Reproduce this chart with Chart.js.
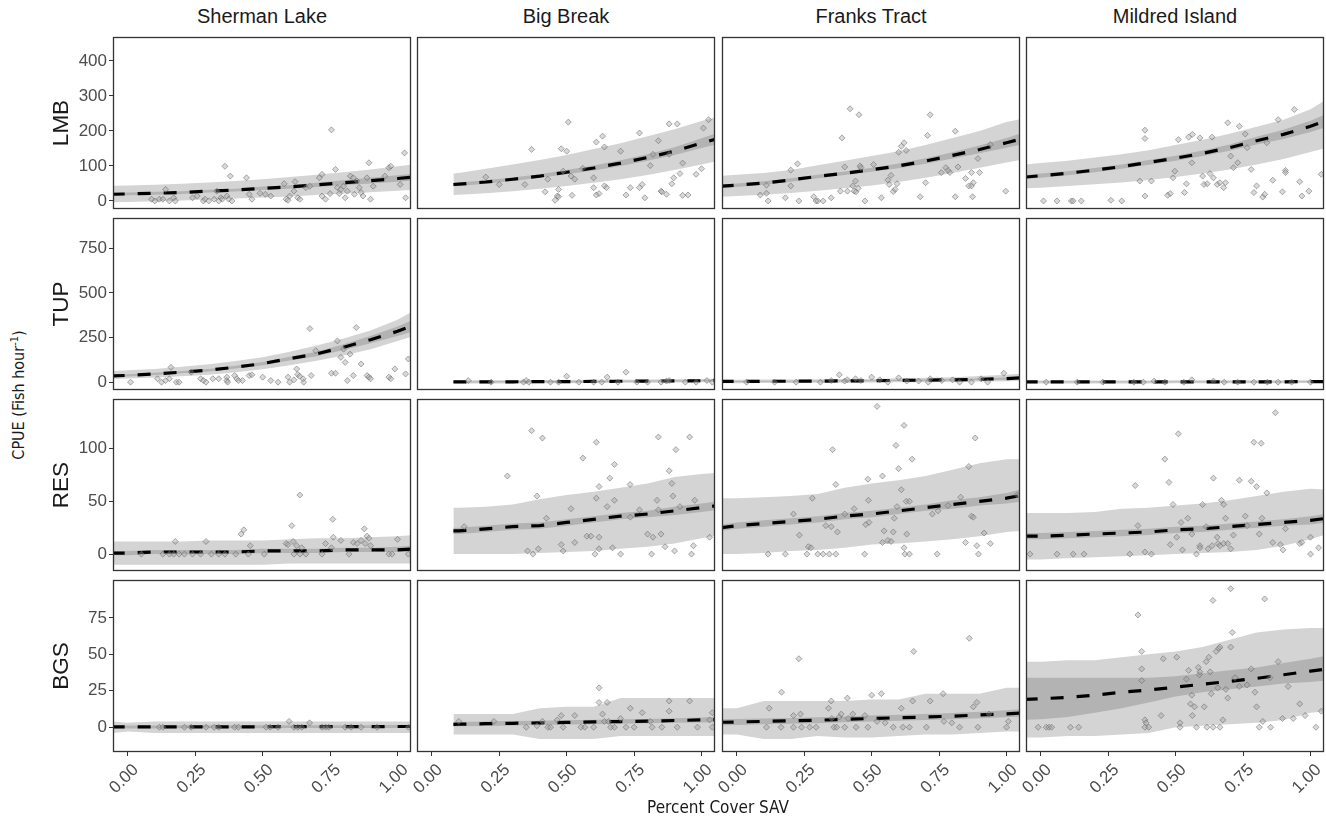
<!DOCTYPE html>
<html>
<head>
<meta charset="utf-8">
<script src="https://cdn.jsdelivr.net/npm/chart.js@4.4.0/dist/chart.umd.min.js"></script>
<style>
  body { margin: 0; background: #fff; width: 1326px; height: 820px; position: relative; overflow: hidden;
         font-family: "Liberation Sans", Arial, sans-serif; }
  canvas { position: absolute; }
  .lbl { position: absolute; white-space: nowrap; color: #1a1a1a; }
  .rot { transform: translate(-50%, -50%) rotate(-90deg); }
  .narrow { font-family: "Liberation Sans Narrow", "Arial Narrow", "DejaVu Sans Condensed", sans-serif; }
</style>
</head>
<body>
<script>
// facets
var SITES = ['Sherman Lake', 'Big Break', 'Franks Tract', 'Mildred Island'];
var SPECIES = ['LMB', 'TUP', 'RES', 'BGS'];
var X_TICKS = [0, 0.25, 0.5, 0.75, 1];
var Y_TICKS = [[0, 100, 200, 300, 400], [0, 250, 500, 750], [0, 50, 100], [0, 25, 50, 75]];

// x positions of the fitted curves
var X_GRID = [-0.06, 0, 0.1, 0.2, 0.3, 0.4, 0.5, 0.6, 0.7, 0.8, 0.9, 1.0, 1.06];
var X_GRID_BB = [0.08, 0.1, 0.2, 0.3, 0.4, 0.5, 0.6, 0.7, 0.8, 0.9, 1.0, 1.06];

// ---- LMB ----
var SL_LMB_FIT = [19, 20, 22, 24, 28, 31, 36, 40, 46, 52, 58, 64, 68];
var SL_LMB_CI_LO = [15, 16, 18, 20, 24, 27, 31, 35, 40, 45, 50, 55, 58];
var SL_LMB_CI_HI = [23, 24, 26, 28, 32, 35, 41, 45, 52, 59, 66, 73, 78];
var SL_LMB_PI_LO = [-4, -3, -1, 1, 4, 7, 10, 13, 17, 21, 25, 29, 32];
var SL_LMB_PI_HI = [43, 44, 46, 49, 53, 57, 62, 68, 75, 82, 90, 99, 104];
var SL_LMB_PTS = [[0.088,5],[0.10,0],[0.117,5],[0.13,5],[0.14,33],[0.154,0],[0.17,9],[0.176,0],[0.24,9],[0.257,14],[0.28,0],[0.286,5],[0.30,0],[0.32,5],[0.33,28],[0.337,0],[0.345,9],[0.35,5],[0.36,99],[0.367,14],[0.374,5],[0.38,71],[0.386,0],[0.44,66],[0.45,19],[0.46,5],[0.49,22],[0.51,19],[0.53,14],[0.58,49],[0.587,5],[0.594,2],[0.60,14],[0.616,28],[0.62,55],[0.63,9],[0.638,5],[0.66,38],[0.675,42],[0.71,66],[0.72,76],[0.72,14],[0.733,5],[0.75,21],[0.755,203],[0.77,90],[0.777,38],[0.784,21],[0.79,33],[0.80,42],[0.806,9],[0.814,28],[0.825,71],[0.836,66],[0.84,19],[0.85,57],[0.858,38],[0.865,24],[0.872,14],[0.887,66],[0.894,109],[0.90,5],[0.91,42],[0.953,71],[0.968,95],[0.975,99],[1.01,47],[1.026,137],[1.03,9]];

var BB_LMB_FIT = [47, 48, 54, 62, 71, 82, 94, 108, 124, 142, 165, 178];
var BB_LMB_CI_LO = [42, 43, 49, 57, 66, 76, 87, 100, 115, 131, 151, 162];
var BB_LMB_CI_HI = [52, 53, 59, 67, 76, 88, 101, 116, 133, 153, 179, 194];
var BB_LMB_PI_LO = [17, 18, 22, 28, 35, 43, 52, 62, 74, 88, 104, 114];
var BB_LMB_PI_HI = [78, 80, 92, 104, 117, 131, 148, 165, 185, 205, 228, 240];
var BB_LMB_PTS = [[0.20,68],[0.25,47],[0.345,47],[0.37,147],[0.42,26],[0.43,62],[0.457,2],[0.465,14],[0.47,12],[0.47,33],[0.48,149],[0.487,85],[0.50,142],[0.506,225],[0.516,71],[0.52,16],[0.53,62],[0.56,93],[0.60,66],[0.60,38],[0.61,17],[0.61,168],[0.62,21],[0.633,185],[0.64,154],[0.64,43],[0.648,38],[0.70,142],[0.72,17],[0.736,38],[0.77,38],[0.77,194],[0.78,47],[0.79,9],[0.81,101],[0.82,133],[0.84,172],[0.85,28],[0.853,26],[0.87,19],[0.88,220],[0.88,133],[0.89,49],[0.897,66],[0.91,220],[0.92,78],[0.93,108],[0.93,16],[0.95,17],[0.98,76],[1.0,92],[1.007,208],[1.026,232]];

var FT_LMB_FIT = [42, 45, 51, 60, 70, 79, 89, 100, 114, 130, 147, 166, 178];
var FT_LMB_CI_LO = [37, 40, 46, 55, 65, 74, 83, 93, 106, 121, 136, 152, 162];
var FT_LMB_CI_HI = [47, 50, 56, 65, 75, 84, 95, 107, 122, 139, 158, 180, 194];
var FT_LMB_PI_LO = [12, 14, 18, 23, 29, 36, 44, 54, 66, 80, 95, 110, 118];
var FT_LMB_PI_HI = [72, 75, 80, 88, 102, 115, 128, 142, 160, 180, 200, 225, 235];
var FT_LMB_PTS = [[0.087,17],[0.11,22],[0.11,45],[0.116,0],[0.18,9],[0.2,88],[0.2,43],[0.225,106],[0.23,0],[0.285,12],[0.294,0],[0.30,0],[0.32,0],[0.35,9],[0.384,28],[0.39,180],[0.40,97],[0.41,28],[0.42,263],[0.43,43],[0.435,28],[0.44,57],[0.442,26],[0.45,36],[0.453,246],[0.457,100],[0.46,95],[0.475,0],[0.507,104],[0.536,9],[0.56,60],[0.565,47],[0.572,73],[0.58,27],[0.587,33],[0.594,49],[0.60,139],[0.61,156],[0.62,166],[0.628,144],[0.68,12],[0.70,52],[0.707,187],[0.717,246],[0.758,81],[0.775,95],[0.783,87],[0.79,81],[0.81,199],[0.81,12],[0.82,97],[0.848,64],[0.86,43],[0.87,81],[0.874,12],[0.87,43],[0.877,52],[0.894,121],[0.90,81],[0.94,161],[0.997,28]];

var MI_LMB_FIT = [68, 72, 79, 88, 98, 110, 122, 136, 152, 172, 190, 213, 230];
var MI_LMB_CI_LO = [62, 66, 73, 82, 92, 103, 115, 128, 143, 161, 177, 197, 211];
var MI_LMB_CI_HI = [74, 78, 85, 94, 104, 117, 129, 144, 161, 183, 203, 229, 249];
var MI_LMB_PI_LO = [36, 38, 43, 48, 53, 60, 68, 78, 90, 104, 120, 140, 152];
var MI_LMB_PI_HI = [104, 108, 115, 124, 133, 145, 160, 175, 192, 212, 232, 262, 290];
var MI_LMB_PTS = [[0.01,0],[0.06,0],[0.113,0],[0.12,0],[0.15,0],[0.26,2],[0.30,0],[0.367,57],[0.386,202],[0.386,178],[0.386,14],[0.41,57],[0.47,16],[0.48,21],[0.49,66],[0.497,85],[0.51,175],[0.533,24],[0.54,49],[0.548,182],[0.56,109],[0.562,190],[0.59,180],[0.60,71],[0.605,47],[0.617,49],[0.627,78],[0.635,182],[0.64,66],[0.654,47],[0.664,52],[0.678,38],[0.685,52],[0.693,223],[0.704,128],[0.714,95],[0.73,109],[0.736,213],[0.758,191],[0.765,152],[0.78,90],[0.79,24],[0.80,43],[0.823,11],[0.83,19],[0.838,166],[0.86,59],[0.88,232],[0.896,26],[0.907,87],[0.907,81],[0.94,261],[0.96,55],[0.968,14],[0.994,28],[1.04,76]];

// ---- TUP ----
var SL_TUP_FIT = [35, 38, 46, 56, 67, 84, 104, 132, 158, 196, 238, 285, 318];
var SL_TUP_CI_LO = [29, 32, 40, 50, 60, 76, 95, 121, 145, 180, 218, 258, 285];
var SL_TUP_CI_HI = [41, 44, 52, 62, 74, 92, 113, 143, 171, 212, 258, 312, 351];
var SL_TUP_PI_LO = [18, 20, 26, 33, 42, 55, 72, 95, 120, 150, 185, 230, 258];
var SL_TUP_PI_HI = [62, 66, 74, 86, 100, 118, 140, 170, 205, 245, 290, 350, 400];
var SL_TUP_PTS = [[0.01,0],[0.11,19],[0.125,0],[0.14,9],[0.154,19],[0.16,83],[0.18,0],[0.19,0],[0.235,56],[0.27,19],[0.28,9],[0.29,0],[0.315,19],[0.337,19],[0.367,28],[0.367,9],[0.37,0],[0.396,37],[0.404,19],[0.41,9],[0.425,9],[0.45,37],[0.46,41],[0.50,28],[0.53,9],[0.557,0],[0.594,28],[0.60,0],[0.616,13],[0.626,74],[0.63,43],[0.637,33],[0.65,19],[0.652,0],[0.675,300],[0.68,37],[0.697,176],[0.755,50],[0.77,50],[0.777,231],[0.79,139],[0.80,185],[0.806,111],[0.814,9],[0.824,157],[0.836,37],[0.847,306],[0.865,102],[0.887,37],[0.894,28],[0.90,19],[0.968,28],[0.975,19],[0.99,74],[1.03,46],[1.04,130]];

var BB_TUP_FIT = [1, 1, 2, 2, 3, 3, 4, 5, 6, 7, 8, 10];
var BB_TUP_CI_LO = [-2, -2, -1, -1, 0, 0, 1, 2, 3, 4, 5, 6];
var BB_TUP_CI_HI = [4, 4, 5, 5, 6, 6, 7, 8, 9, 10, 11, 14];
var BB_TUP_PI_LO = [-8, -8, -7, -7, -6, -6, -5, -4, -3, -2, -1, 0];
var BB_TUP_PI_HI = [10, 10, 11, 11, 12, 12, 13, 14, 15, 16, 18, 20];
var BB_TUP_PTS = [[0.135,9],[0.22,0],[0.34,0],[0.35,9],[0.36,0],[0.44,0],[0.47,0],[0.50,33],[0.545,0],[0.60,0],[0.63,0],[0.65,28],[0.69,0],[0.72,56],[0.76,0],[0.80,0],[0.85,0],[0.87,6],[0.88,9],[0.94,0],[0.98,0],[1.02,9],[1.04,0]];

var FT_TUP_FIT = [4, 4, 5, 5, 6, 7, 8, 10, 11, 13, 16, 20, 25];
var FT_TUP_CI_LO = [1, 1, 2, 2, 3, 4, 5, 6, 7, 9, 11, 14, 17];
var FT_TUP_CI_HI = [7, 7, 8, 8, 9, 10, 11, 14, 15, 17, 21, 26, 33];
var FT_TUP_PI_LO = [-6, -6, -5, -5, -4, -3, -2, -1, 0, 1, 3, 5, 8];
var FT_TUP_PI_HI = [14, 14, 15, 15, 16, 17, 18, 22, 25, 28, 34, 42, 48];
var FT_TUP_PTS = [[0.036,0],[0.14,0],[0.22,0],[0.31,0],[0.35,9],[0.38,41],[0.40,6],[0.41,13],[0.44,19],[0.46,9],[0.50,28],[0.53,13],[0.56,0],[0.60,24],[0.63,6],[0.674,6],[0.71,0],[0.717,19],[0.76,9],[0.80,13],[0.826,0],[0.87,0],[0.906,19],[0.93,0],[0.99,50]];

var MI_TUP_FIT = [1, 1, 1, 1, 1, 1, 2, 2, 2, 2, 2, 3, 3];
var MI_TUP_CI_LO = [-1, -1, -1, -1, -1, -1, 0, 0, 0, 0, 0, 1, 1];
var MI_TUP_CI_HI = [3, 3, 3, 3, 3, 3, 4, 4, 4, 4, 4, 5, 5];
var MI_TUP_PI_LO = [-7, -7, -7, -7, -7, -7, -6, -6, -6, -6, -6, -5, -5];
var MI_TUP_PI_HI = [9, 9, 9, 9, 9, 9, 10, 10, 10, 10, 10, 11, 11];
var MI_TUP_PTS = [[0.02,0],[0.135,0],[0.23,0],[0.345,0],[0.38,0],[0.42,6],[0.46,0],[0.53,0],[0.56,13],[0.64,6],[0.68,0],[0.73,0],[0.79,0],[0.84,0],[0.88,0],[0.93,0],[1.0,0]];

// ---- RES ----
var SL_RES_FIT = [1, 1, 2, 2, 2, 2, 3, 3, 3, 4, 4, 4, 5];
var SL_RES_CI_LO = [-1, -1, 0, 0, 0, 0, 1, 1, 1, 2, 2, 2, 2];
var SL_RES_CI_HI = [3, 3, 4, 4, 4, 4, 5, 5, 5, 6, 6, 7, 8];
var SL_RES_PI_LO = [-10, -10, -10, -10, -10, -10, -10, -9, -9, -9, -9, -9, -9];
var SL_RES_PI_HI = [12, 12, 12, 12, 13, 13, 13, 14, 15, 15, 16, 17, 18];
var SL_RES_PTS = [[0.05,0],[0.13,0],[0.154,0],[0.17,0],[0.176,12],[0.19,0],[0.21,0],[0.24,0],[0.27,0],[0.29,12],[0.31,0],[0.337,0],[0.36,0],[0.40,0],[0.42,19],[0.43,23],[0.447,0],[0.454,8],[0.506,0],[0.587,10],[0.594,9],[0.608,27],[0.613,12],[0.616,0],[0.626,8],[0.638,56],[0.638,0],[0.645,6],[0.66,0],[0.72,0],[0.733,10],[0.755,6],[0.76,33],[0.762,16],[0.79,13],[0.82,0],[0.836,11],[0.85,10],[0.865,13],[0.877,24],[0.88,10],[0.887,17],[0.894,15],[0.90,8],[0.968,0],[0.98,0],[1.0,14],[1.04,0]];

var BB_RES_FIT = [22, 22, 24, 26, 27, 30, 33, 36, 38, 41, 44, 46];
var BB_RES_CI_LO = [19, 19, 21, 23, 24, 27, 30, 33, 35, 37, 40, 42];
var BB_RES_CI_HI = [25, 25, 27, 29, 30, 33, 36, 39, 41, 45, 48, 50];
var BB_RES_PI_LO = [0, 0, 0, 0, 1, 2, 3, 5, 7, 10, 15, 18];
var BB_RES_PI_HI = [44, 44, 45, 47, 52, 56, 59, 63, 67, 73, 76, 77];
var BB_RES_PTS = [[0.12,26],[0.28,74],[0.355,3],[0.37,117],[0.375,0],[0.39,55],[0.395,5],[0.41,110],[0.425,34],[0.48,9],[0.487,3],[0.516,43],[0.53,11],[0.56,91],[0.575,17],[0.59,17],[0.61,106],[0.61,53],[0.62,64],[0.62,16],[0.605,0],[0.62,5],[0.65,45],[0.66,72],[0.67,6],[0.677,85],[0.677,51],[0.70,0],[0.735,66],[0.736,35],[0.77,42],[0.80,19],[0.815,0],[0.82,16],[0.835,51],[0.84,111],[0.84,42],[0.85,19],[0.865,7],[0.88,79],[0.89,67],[0.894,55],[0.90,3],[0.905,99],[0.92,45],[0.956,111],[0.963,0],[0.97,8],[0.975,51],[1.03,16]];

var FT_RES_FIT = [25, 27, 29, 31, 33, 36, 38, 41, 44, 47, 50, 53, 56];
var FT_RES_CI_LO = [22, 24, 26, 28, 30, 33, 35, 38, 41, 43, 46, 48, 50];
var FT_RES_CI_HI = [28, 30, 32, 34, 36, 39, 41, 44, 47, 51, 54, 58, 62];
var FT_RES_PI_LO = [0, 0, 1, 3, 4, 6, 9, 10, 12, 14, 17, 21, 22];
var FT_RES_PI_HI = [53, 53, 54, 55, 57, 63, 67, 70, 74, 80, 86, 90, 90];
var FT_RES_PTS = [[0.116,0],[0.18,0],[0.21,38],[0.232,18],[0.26,0],[0.265,7],[0.275,6],[0.28,53],[0.30,0],[0.32,0],[0.33,27],[0.343,0],[0.35,26],[0.355,99],[0.367,66],[0.367,0],[0.373,21],[0.40,38],[0.435,43],[0.474,0],[0.478,28],[0.486,71],[0.49,30],[0.488,51],[0.52,140],[0.54,11],[0.54,74],[0.546,22],[0.56,13],[0.572,12],[0.58,21],[0.584,34],[0.59,103],[0.594,45],[0.60,81],[0.61,61],[0.62,122],[0.62,6],[0.623,0],[0.628,50],[0.63,19],[0.64,50],[0.64,0],[0.65,90],[0.725,38],[0.743,0],[0.746,41],[0.783,46],[0.83,54],[0.848,11],[0.86,83],[0.87,36],[0.877,35],[0.884,110],[0.89,8],[0.896,0],[0.917,20],[0.94,10],[1.04,56]];

var MI_RES_FIT = [17, 17, 18, 19, 20, 21, 23, 24, 26, 28, 30, 32, 34];
var MI_RES_CI_LO = [14, 14, 15, 16, 17, 18, 20, 21, 23, 25, 27, 28, 30];
var MI_RES_CI_HI = [20, 20, 21, 22, 23, 24, 26, 27, 29, 31, 33, 36, 38];
var MI_RES_PI_LO = [-5, -5, -4, -3, -2, -1, 0, 1, 2, 4, 8, 14, 19];
var MI_RES_PI_HI = [39, 39, 39, 40, 43, 44, 46, 48, 51, 55, 59, 62, 61];
var MI_RES_PTS = [[-0.04,0],[0.06,0],[0.12,0],[0.16,0],[0.33,0],[0.35,65],[0.36,27],[0.386,2],[0.41,0],[0.46,90],[0.475,68],[0.48,9],[0.49,47],[0.504,16],[0.51,114],[0.52,30],[0.525,4],[0.545,34],[0.56,19],[0.577,0],[0.59,8],[0.59,6],[0.60,47],[0.613,26],[0.62,5],[0.635,8],[0.64,72],[0.654,16],[0.657,10],[0.664,8],[0.67,51],[0.678,47],[0.678,10],[0.685,34],[0.693,10],[0.704,5],[0.714,18],[0.736,70],[0.758,36],[0.765,27],[0.78,69],[0.79,106],[0.80,64],[0.81,19],[0.817,105],[0.82,34],[0.838,58],[0.86,11],[0.87,134],[0.888,9],[0.898,4],[0.907,24],[0.96,10],[0.968,11],[1.0,16],[1.0,0],[1.03,6]];

// ---- BGS ----
var SL_BGS_FIT = [0.2, 0.2, 0.2, 0.3, 0.3, 0.3, 0.3, 0.4, 0.4, 0.4, 0.4, 0.5, 0.5];
var SL_BGS_CI_LO = [-0.8, -0.8, -0.8, -0.7, -0.7, -0.7, -0.7, -0.6, -0.6, -0.6, -0.6, -0.5, -0.5];
var SL_BGS_CI_HI = [1.2, 1.2, 1.2, 1.3, 1.3, 1.3, 1.3, 1.4, 1.4, 1.4, 1.4, 1.5, 1.5];
var SL_BGS_PI_LO = [-4, -3, -4, -4, -4, -4, -4, -4, -4, -4, -4, -4, -4];
var SL_BGS_PI_HI = [4, 3, 4, 4, 4, 4, 4, 4, 4, 4, 4, 4, 4];
var SL_BGS_PTS = [[0.117,0],[0.13,0],[0.21,0],[0.235,0],[0.29,0],[0.32,0],[0.337,0],[0.396,0],[0.41,0],[0.513,0],[0.528,0],[0.557,0],[0.598,4],[0.616,0],[0.63,0],[0.645,0],[0.674,3],[0.72,0],[0.733,0],[0.745,0],[0.806,0],[0.828,0],[0.865,0],[0.924,0],[1.04,0]];

var BB_BGS_FIT = [2.0, 2.1, 2.4, 2.7, 3.0, 3.3, 3.6, 3.9, 4.2, 4.6, 5.0, 5.3];
var BB_BGS_CI_LO = [0.5, 0.6, 0.9, 1.2, 1.5, 1.8, 2.1, 2.4, 2.7, 3.0, 3.3, 3.5];
var BB_BGS_CI_HI = [3.5, 3.6, 3.9, 4.2, 4.5, 4.8, 5.1, 5.4, 5.7, 6.2, 6.7, 7.1];
var BB_BGS_PI_LO = [-5, -5, -5, -5, -8, -8, -8, -6, -6, -6, -6, -6];
var BB_BGS_PI_HI = [9, 9, 9, 9, 13, 14, 14, 20, 20, 20, 20, 20];
var BB_BGS_PTS = [[0.10,4],[0.23,4],[0.35,0],[0.39,1],[0.41,4],[0.43,0],[0.44,0],[0.465,5],[0.48,8],[0.487,0],[0.53,8],[0.553,0],[0.567,0],[0.60,0],[0.62,27],[0.62,17],[0.633,9],[0.64,4],[0.65,17],[0.655,4],[0.663,0],[0.677,0],[0.70,6],[0.72,0],[0.736,13],[0.75,0],[0.78,10],[0.81,4],[0.817,0],[0.853,0],[0.88,11],[0.88,18],[0.91,0],[0.956,18],[0.985,0],[1.03,5],[1.04,10],[1.04,0]];

var FT_BGS_FIT = [3.4, 3.6, 4.0, 4.4, 4.8, 5.4, 6.0, 6.5, 7.0, 7.6, 8.4, 9.2, 9.8];
var FT_BGS_CI_LO = [1.4, 1.6, 2.0, 2.4, 2.8, 3.4, 4.0, 4.5, 5.0, 5.5, 6.2, 6.8, 7.2];
var FT_BGS_CI_HI = [5.4, 5.6, 6.0, 6.4, 6.8, 7.4, 8.0, 8.5, 9.0, 9.7, 10.6, 11.6, 12.4];
var FT_BGS_PI_LO = [-5, -5, -8, -8, -6, -7, -7, -6, -5, -5, -4, -3, -3];
var FT_BGS_PI_HI = [13, 13, 18, 18, 18, 18, 19, 19, 23, 23, 23, 27, 27];
var FT_BGS_PTS = [[0.11,0],[0.12,13],[0.164,0],[0.166,24],[0.21,0],[0.21,8],[0.23,47],[0.236,9],[0.24,0],[0.27,0],[0.294,0],[0.34,13],[0.35,18],[0.352,6],[0.36,0],[0.37,0],[0.38,7],[0.387,9],[0.40,0],[0.41,20],[0.413,6],[0.43,9],[0.442,0],[0.475,8],[0.486,0],[0.50,22],[0.52,4],[0.536,23],[0.55,3],[0.58,0],[0.61,13],[0.616,0],[0.64,0],[0.652,18],[0.656,52],[0.703,0],[0.717,18],[0.765,23],[0.768,4],[0.797,3],[0.826,0],[0.862,61],[0.877,14],[0.89,17],[0.894,0],[0.935,9],[1.0,0],[1.007,4]];

var MI_BGS_FIT = [19, 19.5, 20.5, 22, 24, 25.5, 27.5, 29.5, 31.5, 33.5, 36, 38.5, 40];
var MI_BGS_CI_LO = [5, 5.5, 7, 10, 13, 17, 21, 24, 26, 28, 30, 31, 32];
var MI_BGS_CI_HI = [34, 34, 34, 34, 34, 34, 35, 37, 39, 41, 44, 47, 49];
var MI_BGS_PI_LO = [-7, -7, -6, -6, -5, -4, 0, 1, 2, 3, 5, 10, 11];
var MI_BGS_PI_HI = [45, 45, 46, 46, 48, 50, 52, 55, 60, 65, 67, 68, 68];
var MI_BGS_PTS = [[-0.01,0],[0.02,0],[0.03,0],[0.04,0],[0.11,0],[0.14,0],[0.36,77],[0.374,52],[0.374,40],[0.374,32],[0.386,5],[0.39,3],[0.386,0],[0.40,0],[0.446,8],[0.454,47],[0.504,48],[0.516,3],[0.516,0],[0.54,33],[0.548,39],[0.555,16],[0.56,22],[0.562,8],[0.57,14],[0.577,0],[0.584,41],[0.588,36],[0.59,38],[0.606,14],[0.613,45],[0.616,0],[0.623,48],[0.628,38],[0.632,23],[0.638,87],[0.639,0],[0.65,52],[0.656,27],[0.66,54],[0.664,55],[0.664,0],[0.675,5],[0.686,26],[0.693,20],[0.704,95],[0.704,55],[0.71,65],[0.72,34],[0.736,28],[0.765,29],[0.78,40],[0.794,24],[0.80,14],[0.81,0],[0.823,4],[0.83,88],[0.85,34],[0.852,0],[0.88,45],[0.896,6],[0.917,28],[0.936,6],[0.96,16],[0.98,8],[1.02,0],[1.04,11]];

// panel table [row][col]
function panel(xs, fit, ciLo, ciHi, piLo, piHi, pts) {
    return { xs: xs, fit: fit, ciLo: ciLo, ciHi: ciHi, piLo: piLo, piHi: piHi, pts: pts };
}
var PANELS = [
    [panel(X_GRID, SL_LMB_FIT, SL_LMB_CI_LO, SL_LMB_CI_HI, SL_LMB_PI_LO, SL_LMB_PI_HI, SL_LMB_PTS),
     panel(X_GRID_BB, BB_LMB_FIT, BB_LMB_CI_LO, BB_LMB_CI_HI, BB_LMB_PI_LO, BB_LMB_PI_HI, BB_LMB_PTS),
     panel(X_GRID, FT_LMB_FIT, FT_LMB_CI_LO, FT_LMB_CI_HI, FT_LMB_PI_LO, FT_LMB_PI_HI, FT_LMB_PTS),
     panel(X_GRID, MI_LMB_FIT, MI_LMB_CI_LO, MI_LMB_CI_HI, MI_LMB_PI_LO, MI_LMB_PI_HI, MI_LMB_PTS)],
    [panel(X_GRID, SL_TUP_FIT, SL_TUP_CI_LO, SL_TUP_CI_HI, SL_TUP_PI_LO, SL_TUP_PI_HI, SL_TUP_PTS),
     panel(X_GRID_BB, BB_TUP_FIT, BB_TUP_CI_LO, BB_TUP_CI_HI, BB_TUP_PI_LO, BB_TUP_PI_HI, BB_TUP_PTS),
     panel(X_GRID, FT_TUP_FIT, FT_TUP_CI_LO, FT_TUP_CI_HI, FT_TUP_PI_LO, FT_TUP_PI_HI, FT_TUP_PTS),
     panel(X_GRID, MI_TUP_FIT, MI_TUP_CI_LO, MI_TUP_CI_HI, MI_TUP_PI_LO, MI_TUP_PI_HI, MI_TUP_PTS)],
    [panel(X_GRID, SL_RES_FIT, SL_RES_CI_LO, SL_RES_CI_HI, SL_RES_PI_LO, SL_RES_PI_HI, SL_RES_PTS),
     panel(X_GRID_BB, BB_RES_FIT, BB_RES_CI_LO, BB_RES_CI_HI, BB_RES_PI_LO, BB_RES_PI_HI, BB_RES_PTS),
     panel(X_GRID, FT_RES_FIT, FT_RES_CI_LO, FT_RES_CI_HI, FT_RES_PI_LO, FT_RES_PI_HI, FT_RES_PTS),
     panel(X_GRID, MI_RES_FIT, MI_RES_CI_LO, MI_RES_CI_HI, MI_RES_PI_LO, MI_RES_PI_HI, MI_RES_PTS)],
    [panel(X_GRID, SL_BGS_FIT, SL_BGS_CI_LO, SL_BGS_CI_HI, SL_BGS_PI_LO, SL_BGS_PI_HI, SL_BGS_PTS),
     panel(X_GRID_BB, BB_BGS_FIT, BB_BGS_CI_LO, BB_BGS_CI_HI, BB_BGS_PI_LO, BB_BGS_PI_HI, BB_BGS_PTS),
     panel(X_GRID, FT_BGS_FIT, FT_BGS_CI_LO, FT_BGS_CI_HI, FT_BGS_PI_LO, FT_BGS_PI_HI, FT_BGS_PTS),
     panel(X_GRID, MI_BGS_FIT, MI_BGS_CI_LO, MI_BGS_CI_HI, MI_BGS_PI_LO, MI_BGS_PI_HI, MI_BGS_PTS)]
];

// layout
var COL_X = [113, 417, 722, 1026];
var ROW_Y = [37, 218, 399, 580];
var PW = 298, PH = 172;
var X_MIN = -0.055, X_MAX = 1.05;
var Y_MIN = [-23, -44, -16, -17];
var Y_MAX = [468, 920, 147, 101];
var TICK_FONT = { family: '"Liberation Sans", Arial, sans-serif', size: 17 };

var framePlugin = {
    id: 'frame',
    afterDatasetsDraw: function(chart) {
        var a = chart.chartArea, ctx = chart.ctx;
        ctx.save();
        ctx.strokeStyle = '#333';
        ctx.lineWidth = 1.3;
        ctx.strokeRect(a.left + 0.5, a.top + 0.5, a.right - a.left - 1, a.bottom - a.top - 1);
        ctx.restore();
    }
};

function xy(xs, ys) {
    return xs.map(function(x, k) { return { x: x, y: ys[k] }; });
}

function band(data, color, fill, order) {
    return { data: data, showLine: true, pointRadius: 0, borderWidth: 1, borderColor: 'rgba(0,0,0,0)',
             backgroundColor: color, fill: fill, order: order, tension: 0 };
}

function drawPanel(row, col) {
    var p = PANELS[row][col];
    var showY = col === 0, showX = row === 3;
    var left = showY ? 60 : 12, right = 12, top = 5, bottom = showX ? 55 : 5;
    var cv = document.createElement('canvas');
    cv.width = PW + left + right;
    cv.height = PH + top + bottom;
    cv.style.left = (COL_X[col] - left) + 'px';
    cv.style.top = (ROW_Y[row] - top) + 'px';
    document.body.appendChild(cv);

    var yTicks = Y_TICKS[row];
    new Chart(cv, {
        type: 'scatter',
        data: {
            datasets: [
                band(xy(p.xs, p.piHi), '#d4d4d4', '+1', 6),
                band(xy(p.xs, p.piLo), '#d4d4d4', false, 5),
                band(xy(p.xs, p.ciHi), '#b3b3b3', '+1', 4),
                band(xy(p.xs, p.ciLo), '#b3b3b3', false, 3),
                { data: xy(p.xs, p.fit), showLine: true, pointRadius: 0, borderColor: '#000', borderWidth: 3.2,
                  borderDash: [13, 13], borderCapStyle: 'butt', fill: false, order: 2 },
                { data: p.pts.map(function(d) { return { x: d[0], y: d[1] }; }), showLine: false,
                  pointStyle: 'rectRot', pointRadius: 3, borderWidth: 1,
                  backgroundColor: 'rgba(160,160,160,0.4)', borderColor: 'rgba(95,95,95,0.5)', order: 1 }
            ]
        },
        options: {
            responsive: false,
            animation: false,
            devicePixelRatio: 1,
            events: [],
            layout: { padding: { left: showY ? 0 : left, right: right, top: top, bottom: showX ? 0 : bottom } },
            plugins: { legend: { display: false }, tooltip: { enabled: false } },
            scales: {
                x: {
                    type: 'linear', min: X_MIN, max: X_MAX, display: showX,
                    afterBuildTicks: function(s) { s.ticks = X_TICKS.map(function(v) { return { value: v }; }); },
                    afterFit: function(s) {
                        if (!showX) return;
                        s.height = 55; s.paddingLeft = 0; s.paddingRight = 0;
                    },
                    ticks: { autoSkip: false, minRotation: 45, maxRotation: 45, padding: 4, labelOffset: 8,
                             color: '#4d4d4d', font: TICK_FONT, callback: function(v) { return v.toFixed(2); } },
                    grid: { drawOnChartArea: false, drawTicks: true, tickLength: 4, color: '#333' },
                    border: { display: false }
                },
                y: {
                    type: 'linear', min: Y_MIN[row], max: Y_MAX[row], display: showY,
                    afterBuildTicks: function(s) { s.ticks = yTicks.map(function(v) { return { value: v }; }); },
                    afterFit: function(s) {
                        if (!showY) return;
                        s.width = 60; s.paddingTop = 0; s.paddingBottom = 0;
                    },
                    ticks: { padding: 2, color: '#4d4d4d', font: TICK_FONT,
                             callback: function(v) { return String(v); } },
                    grid: { drawOnChartArea: false, drawTicks: true, tickLength: 4, color: '#333' },
                    border: { display: false }
                }
            }
        },
        plugins: [framePlugin]
    });
}

function addLabel(html, css, cls) {
    var d = document.createElement('div');
    d.className = 'lbl ' + (cls || '');
    d.innerHTML = html;
    for (var k in css) d.style[k] = css[k];
    document.body.appendChild(d);
}

for (var r = 0; r < 4; r++) {
    for (var c = 0; c < 4; c++) drawPanel(r, c);
}

SITES.forEach(function(s, i) {
    addLabel(s, { left: COL_X[i] + 'px', width: PW + 'px', top: '5px', textAlign: 'center', fontSize: '20px' });
});
SPECIES.forEach(function(s, j) {
    addLabel(s, { left: '61px', top: (ROW_Y[j] + PH / 2) + 'px', fontSize: '22.5px' }, 'rot');
});
addLabel('CPUE (Fish hour<sup style="font-size:11px">-1</sup>)',
         { left: '18px', top: '395px', fontSize: '16px' }, 'rot narrow');
addLabel('Percent Cover SAV', { left: '568px', width: '300px', top: '797px', textAlign: 'center', fontSize: '17px' }, 'narrow');
</script>
</body>
</html>
